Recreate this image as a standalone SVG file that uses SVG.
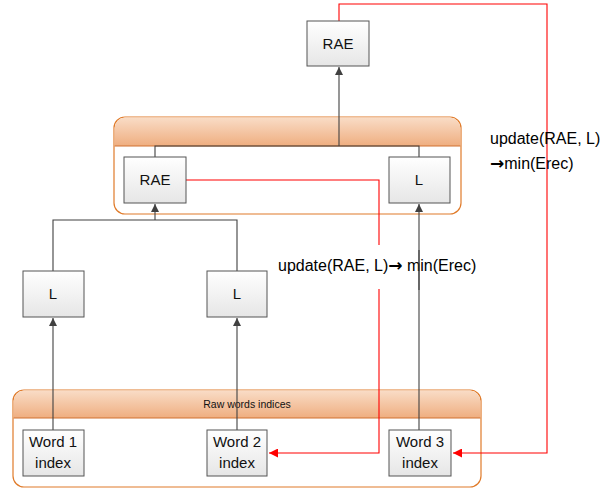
<svg xmlns="http://www.w3.org/2000/svg" width="609" height="490" viewBox="0 0 609 490">
<defs>
<linearGradient id="boxg" x1="0" y1="0" x2="0" y2="1"><stop offset="0" stop-color="#ffffff"/><stop offset="1" stop-color="#e6e6e6"/></linearGradient>
<linearGradient id="hdrg" x1="0" y1="0" x2="0" y2="1"><stop offset="0" stop-color="#f9dcc6"/><stop offset="1" stop-color="#efae80"/></linearGradient>
<marker id="ak" viewBox="0 0 10 10" refX="10" refY="5" markerWidth="8" markerHeight="8" markerUnits="userSpaceOnUse" orient="auto"><path d="M0,0 L10,5 L0,10 z" fill="#404040"/></marker>
<marker id="ar" viewBox="0 0 10 10" refX="10" refY="5" markerWidth="9" markerHeight="9" markerUnits="userSpaceOnUse" orient="auto"><path d="M0,0 L10,5 L0,10 z" fill="#ff0000"/></marker>
</defs>
<style>
.box{fill:url(#boxg);stroke:#555;stroke-width:1}
.t{font-family:"Liberation Sans",Arial,sans-serif;font-size:15px;fill:#111;text-anchor:middle}
.cont{fill:#fff;stroke:#e07b2a;stroke-width:1.2}
.hdr{fill:url(#hdrg)}
.k{stroke:#404040;stroke-width:1.1;fill:none}
.r{stroke:#ff0000;stroke-width:1.1;fill:none}
.lbl{font-family:"Liberation Sans",Arial,sans-serif;font-size:16px;fill:#000}
.arw{font-family:"DejaVu Sans",sans-serif;font-size:17px;font-weight:bold}
</style>
<rect width="609" height="490" fill="#fff"/>

<g id="group-mid">
<rect class="cont" x="114" y="117" width="347" height="97" rx="11"/>
<path class="hdr" d="M125,117.6 H450 A10.4,10.4 0 0 1 460.4,128 V146 H114.6 V128 A10.4,10.4 0 0 1 125,117.6 z"/>
<line x1="114.6" y1="146" x2="460.4" y2="146" stroke="#d07030" stroke-width="1"/>
</g>

<g id="group-raw">
<rect class="cont" x="13" y="390" width="468" height="97" rx="11"/>
<path class="hdr" d="M24,390.6 H470 A10.4,10.4 0 0 1 480.4,401 V418 H13.6 V401 A10.4,10.4 0 0 1 24,390.6 z"/>
<line x1="13.6" y1="418" x2="480.4" y2="418" stroke="#d07030" stroke-width="1"/>
<text x="247" y="408" style="font-family:'Liberation Sans',Arial,sans-serif;font-size:10.5px;fill:#111;text-anchor:middle">Raw words indices</text>
</g>

<g id="connectors">
<path class="r" d="M339,21 V4 H547 V453 H453" marker-end="url(#ar)"/>
<path class="r" d="M186,180 H379 V453 H269" marker-end="url(#ar)"/>
<rect x="372" y="245" width="14" height="44" fill="#fff"/>
<path class="k" d="M339,146 V67" marker-end="url(#ak)"/>
<path class="k" d="M155,157 V146 H419 V157"/>
<path class="k" d="M53,271 V220 H237 V271"/>
<path class="k" d="M155,220 V204" marker-end="url(#ak)"/>
<path class="k" d="M53,430 V318" marker-end="url(#ak)"/>
<path class="k" d="M237,430 V318" marker-end="url(#ak)"/>
<path class="k" d="M419,430 V204" marker-end="url(#ak)"/>
</g>

<g id="label-upd1">
<text class="lbl" x="278" y="271">update(RAE, L)<tspan class="arw">→</tspan> min(Erec)</text>
</g>
<line x1="419" y1="250" x2="419" y2="290" stroke="#404040" stroke-width="1.1"/>

<g id="label-upd2">
<text class="lbl" x="490" y="144">update(RAE, L)</text>
<text class="lbl" x="490" y="169"><tspan class="arw">→</tspan>min(Erec)</text>
</g>

<g id="node-rae-top">
<rect class="box" x="307" y="21" width="62" height="45"/>
<text class="t" x="338" y="49">RAE</text>
</g>
<g id="node-rae-mid">
<rect class="box" x="124" y="157" width="62" height="46"/>
<text class="t" x="155" y="185">RAE</text>
</g>
<g id="node-l-mid">
<rect class="box" x="389" y="157" width="61" height="46"/>
<text class="t" x="419" y="185">L</text>
</g>
<g id="node-l-left">
<rect class="box" x="23" y="271" width="61" height="46"/>
<text class="t" x="53" y="299">L</text>
</g>
<g id="node-l-right">
<rect class="box" x="207" y="271" width="60" height="46"/>
<text class="t" x="237" y="299">L</text>
</g>
<g id="node-word1">
<rect class="box" x="23" y="430" width="61" height="46"/>
<text class="t" x="53" y="447">Word 1</text>
<text class="t" x="53" y="468">index</text>
</g>
<g id="node-word2">
<rect class="box" x="207" y="430" width="60" height="46"/>
<text class="t" x="237" y="447">Word 2</text>
<text class="t" x="237" y="468">index</text>
</g>
<g id="node-word3">
<rect class="box" x="389" y="430" width="62" height="46"/>
<text class="t" x="420" y="447">Word 3</text>
<text class="t" x="420" y="468">index</text>
</g>
</svg>
